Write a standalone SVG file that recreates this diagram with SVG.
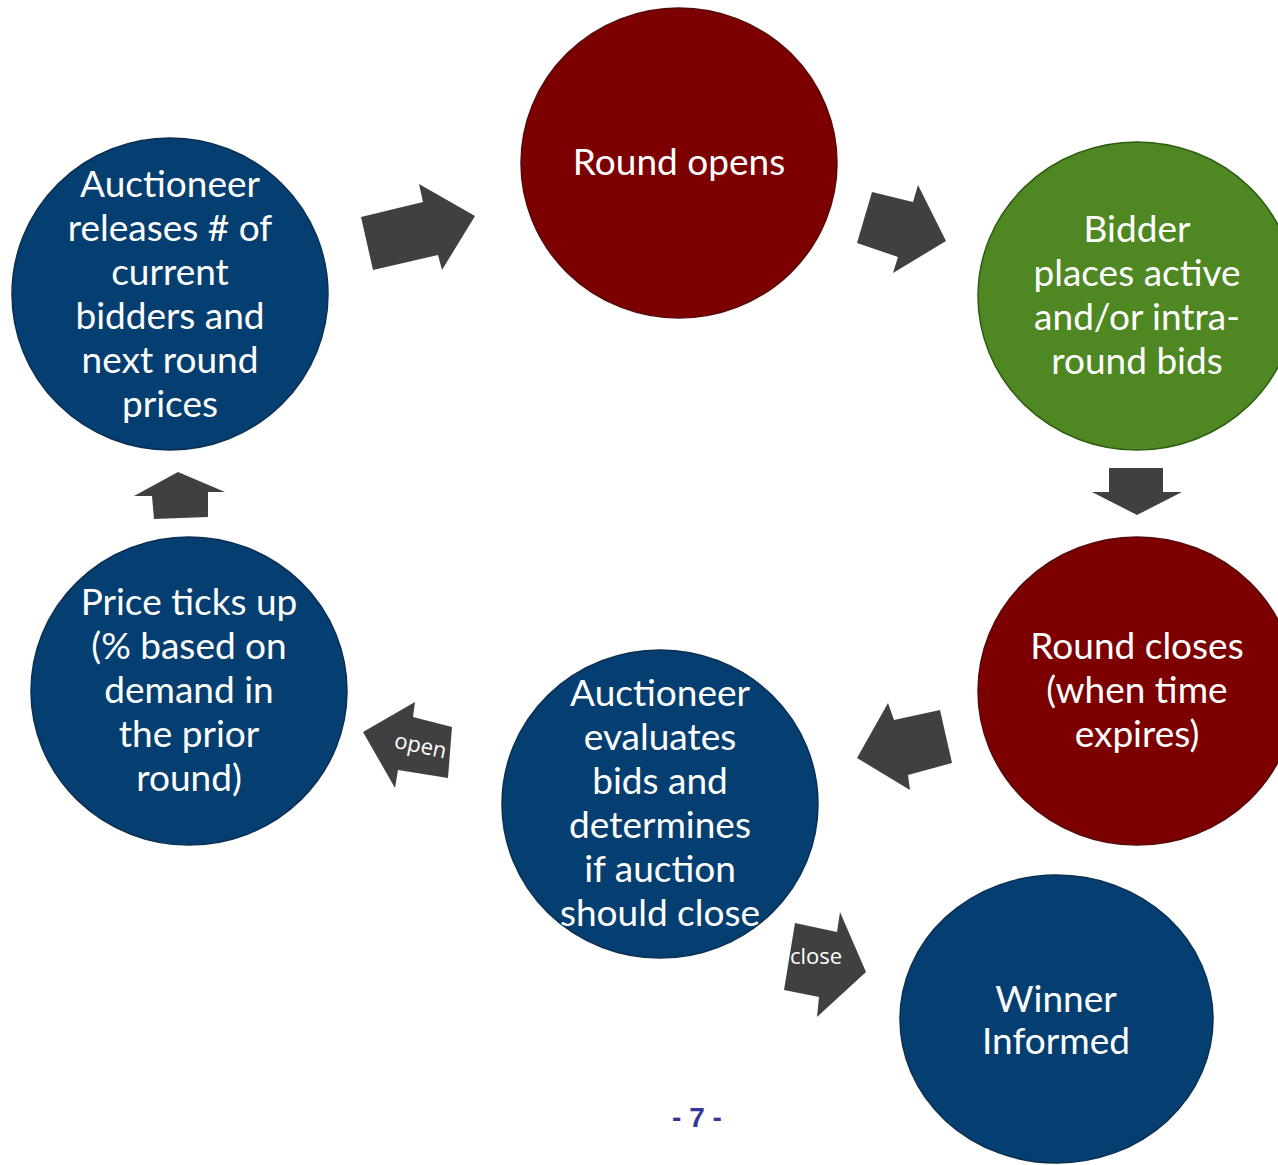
<svg xmlns="http://www.w3.org/2000/svg" width="1278" height="1165" viewBox="0 0 1278 1165">
<style>
.blue{fill:#053f71;stroke:#0b2f52;stroke-width:1.5}
.red{fill:#7c0000;stroke:#560a0a;stroke-width:1.5}
.green{fill:#4f8722;stroke:#2e5c12;stroke-width:1.5}
.t{font-family:Lato,"Open Sans","Liberation Sans",sans-serif;font-size:37px;fill:#ffffff;text-anchor:middle}
.arrow{fill:#404040}
.lbl{font-family:"Open Sans","Liberation Sans",sans-serif;font-size:22px;fill:#ffffff;text-anchor:middle}
.page{font-family:"Liberation Sans",Arial,sans-serif;font-size:28px;font-weight:bold;fill:#35359a;text-anchor:middle}
</style>
<rect width="1278" height="1165" fill="#ffffff"/>
<g id="connectors">
<polygon class="arrow" points="361,217 423,202 419,184 475,216 442,270 438,255 373,270"/>
<polygon class="arrow" points="872,192 913,202 918,185 946,241 893,273 898,257 857,243"/>
<polygon class="arrow" points="1109,468 1163,468 1163,492 1182,492 1137,515 1092,492 1109,492"/>
<polygon class="arrow" points="940,710 894,720 888,703 857,758 910,790 908,775 952,763"/>
<g id="arrow-open">
<polygon class="arrow" points="452,727 413,717 415,702 363,732 395,788 398,770 448,778"/>
<text class="lbl" transform="translate(419,753) rotate(12)">open</text>
</g>
<g id="arrow-close">
<polygon class="arrow" points="795,923 837,932 840,912 866,972 817,1017 819,997 784,990"/>
<text class="lbl" x="816" y="964">close</text>
</g>
<polygon class="arrow" points="178,472 225,492 208,492 208,517 154,519 152,496 134,496"/>
</g>
<g id="node-releases">
<ellipse class="blue" cx="170" cy="294" rx="158" ry="156"/>
<text class="t" x="170" y="197">Auctioneer</text>
<text class="t" x="170" y="241">releases # of</text>
<text class="t" x="170" y="285">current</text>
<text class="t" x="170" y="329">bidders and</text>
<text class="t" x="170" y="373">next round</text>
<text class="t" x="170" y="417">prices</text>
</g>
<g id="node-opens">
<ellipse class="red" cx="679" cy="163" rx="158" ry="155"/>
<text class="t" x="679" y="175">Round opens</text>
</g>
<g id="node-bids">
<ellipse class="green" cx="1137" cy="296" rx="159" ry="154"/>
<text class="t" x="1137" y="242">Bidder</text>
<text class="t" x="1137" y="286">places active</text>
<text class="t" x="1137" y="330">and/or intra-</text>
<text class="t" x="1137" y="374">round bids</text>
</g>
<g id="node-closes">
<ellipse class="red" cx="1137" cy="691" rx="159" ry="154"/>
<text class="t" x="1137" y="659">Round closes</text>
<text class="t" x="1137" y="703">(when time</text>
<text class="t" x="1137" y="747">expires)</text>
</g>
<g id="node-evaluates">
<ellipse class="blue" cx="660" cy="804" rx="158" ry="154"/>
<text class="t" x="660" y="706">Auctioneer</text>
<text class="t" x="660" y="750">evaluates</text>
<text class="t" x="660" y="794">bids and</text>
<text class="t" x="660" y="838">determines</text>
<text class="t" x="660" y="882">if auction</text>
<text class="t" x="660" y="926">should close</text>
</g>
<g id="node-price">
<ellipse class="blue" cx="189" cy="691" rx="158" ry="154"/>
<text class="t" x="189" y="615">Price ticks up</text>
<text class="t" x="189" y="659">(% based on</text>
<text class="t" x="189" y="703">demand in</text>
<text class="t" x="189" y="747">the prior</text>
<text class="t" x="189" y="791">round)</text>
</g>
<g id="node-winner">
<ellipse class="blue" cx="1056.5" cy="1019" rx="156.5" ry="144"/>
<text class="t" x="1056" y="1012">Winner</text>
<text class="t" x="1056" y="1054">Informed</text>
</g>
<text class="page" x="697" y="1127">- 7 -</text>
</svg>
